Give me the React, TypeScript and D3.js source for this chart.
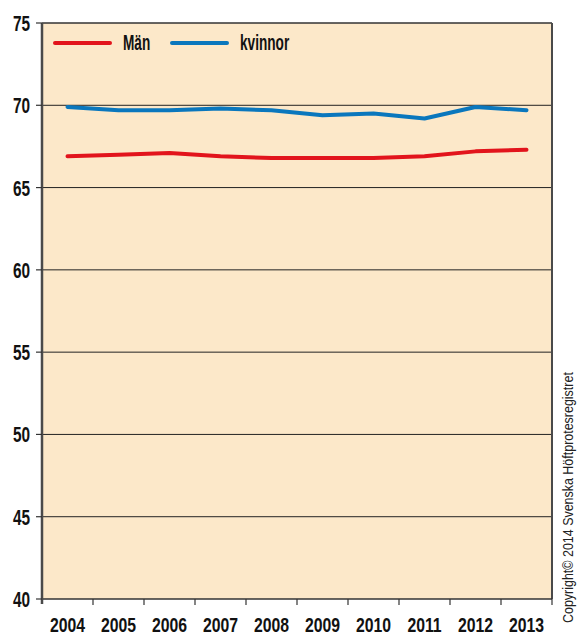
import React from "react";
import * as d3 from "d3";

const years = ["2004", "2005", "2006", "2007", "2008", "2009", "2010", "2011", "2012", "2013"];
const man = [66.9, 67.0, 67.1, 66.9, 66.8, 66.8, 66.8, 66.9, 67.2, 67.3];
const kvinnor = [69.9, 69.7, 69.7, 69.8, 69.7, 69.4, 69.5, 69.2, 69.9, 69.7];
const yTicks = [40, 45, 50, 55, 60, 65, 70, 75];
const seriesNames = ["Män", "kvinnor"];
const seriesColors = ["#E2141C", "#0A77BD"];

const W = 579, H = 635;
const left = 42, right = 552, top = 23, bottom = 599;
const FONT = "'Liberation Sans', Arial, sans-serif";

export default function App() {
  const x = d3.scaleBand<string>().domain(years).range([left, right]);
  const y = d3.scaleLinear().domain([40, 75]).range([bottom, top]);
  const line = d3
    .line<number>()
    .x((_, i) => (x(years[i]) as number) + x.bandwidth() / 2)
    .y((d) => y(d));
  const series = [man, kvinnor];

  return (
    <svg width={W} height={H} style={{ position: "absolute", left: 0, top: 0 }} fontFamily={FONT}>
      <rect x={0} y={0} width={W} height={H} fill="#fff" />
      <rect x={left} y={top} width={right - left} height={bottom - top} fill="#FCE8C9" />
      {/* gridlines */}
      {yTicks.slice(1, -1).map((t) => (
        <line key={t} x1={left} x2={right} y1={y(t)} y2={y(t)} stroke="#222" strokeWidth={1} />
      ))}
      {/* frame */}
      <line x1={left} x2={right} y1={top} y2={top} stroke="#333" strokeWidth={1.5} />
      <line x1={right} x2={right} y1={top} y2={bottom} stroke="#4a4a4a" strokeWidth={2} />
      <line x1={left} x2={right} y1={bottom} y2={bottom} stroke="#333" strokeWidth={1.5} />
      <line x1={left} x2={left} y1={top} y2={bottom + 5} stroke="#4a4a4a" strokeWidth={2.5} />
      {/* y ticks */}
      {yTicks.map((t) => (
        <g key={t}>
          <line x1={left - 6} x2={left} y1={y(t)} y2={y(t)} stroke="#333" strokeWidth={1.2} />
          <text
            transform={`translate(30,${y(t)}) scale(0.7,1)`}
            textAnchor="end"
            dy="0.36em"
            fontSize={22}
            fontWeight="bold"
            fill="#111"
          >
            {t}
          </text>
        </g>
      ))}
      {/* x ticks */}
      {years.map((yr) => {
        const bx = (x(yr) as number) + x.bandwidth();
        return (
          <g key={yr}>
            <line x1={bx} x2={bx} y1={bottom} y2={bottom + 6} stroke="#333" strokeWidth={1.2} />
            <text
              transform={`translate(${(x(yr) as number) + x.bandwidth() / 2},632) scale(0.77,1)`}
              textAnchor="middle"
              fontSize={20.5}
              fontWeight="bold"
              fill="#111"
            >
              {yr}
            </text>
          </g>
        );
      })}
      {/* lines */}
      {series.map((s, i) => (
        <path
          key={i}
          d={line(s) || ""}
          fill="none"
          stroke={seriesColors[i]}
          strokeWidth={4}
          strokeLinecap="round"
          strokeLinejoin="round"
        />
      ))}
      {/* legend */}
      {seriesNames.map((n, i) => {
        const lx = 55 + i * 117;
        return (
          <g key={n}>
            <line x1={lx} x2={lx + 55} y1={43} y2={43} stroke={seriesColors[i]} strokeWidth={4} strokeLinecap="round" />
            <text transform={`translate(${lx + 68},50) scale(0.62,1)`} fontSize={22} fontWeight="bold" fill="#111">
              {n}
            </text>
          </g>
        );
      })}
      <text
        transform="translate(573,623) rotate(-90) scale(0.89,1)"
        fontSize={14}
        fill="#222"
      >
        Copyright© 2014 Svenska Höftprotesregistret
      </text>
    </svg>
  );
}
